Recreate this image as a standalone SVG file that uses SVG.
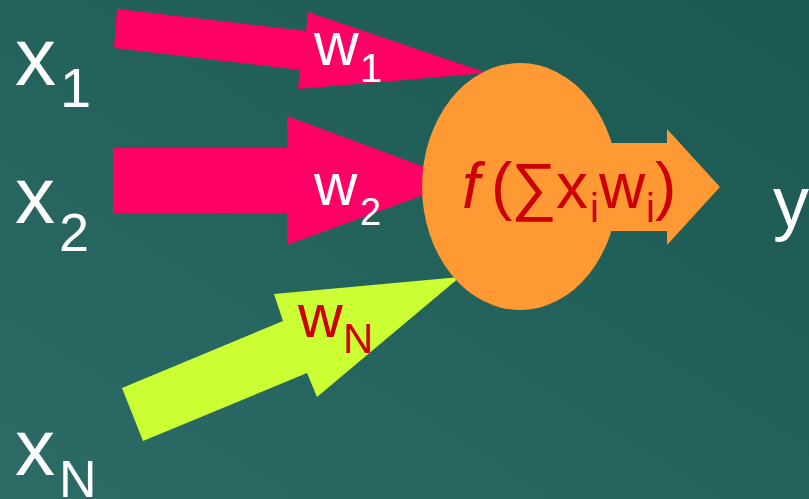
<svg xmlns="http://www.w3.org/2000/svg" width="809" height="499" viewBox="0 0 809 499">
<defs>
<linearGradient id="bg" x1="0" y1="1" x2="1" y2="0">
<stop offset="0" stop-color="#2D6B67"/>
<stop offset="1" stop-color="#1A5850"/>
</linearGradient>
<style>
.t{font-family:"Liberation Sans",Arial,sans-serif;fill:#FFFFFF}
.r{fill:#CC0000}
.pink{fill:#FF0066}
.lime{fill:#CCFF33}
.orange{fill:#FF9933}
</style>
</defs>
<rect x="0" y="0" width="809" height="499" fill="url(#bg)"/>
<g id="connectors">
<polygon class="pink" points="117,9 306,31 308,12 487,73 298,89 300,70 114,48"/>
<polygon class="pink" points="113,148 287,148 287,116 462,181 287,245 287,213 113,213"/>
<polygon class="lime" points="122,388 283,321 274,294 460,277 317,397 307,373 143,441"/>
<polygon class="orange" points="600,143 667,143 667,129 720,187 667,245 667,231 600,231"/>
</g>
<g id="neuron">
<ellipse class="orange" cx="520" cy="186.5" rx="98" ry="123.5"/>
<text class="t r" font-size="64"><tspan x="462" y="208" font-style="italic">f</tspan><tspan x="491" y="208">(</tspan><tspan x="511" y="208">∑</tspan><tspan x="556" y="208">x</tspan><tspan x="590" y="222" font-size="40">i</tspan><tspan x="599" y="208">w</tspan><tspan x="646" y="222" font-size="40">i</tspan><tspan x="655" y="208">)</tspan></text>
</g>
<g id="x1"><text class="t" font-size="82"><tspan x="15" y="85">x</tspan><tspan x="60" y="107" font-size="56">1</tspan></text></g>
<g id="x2"><text class="t" font-size="80"><tspan x="15" y="223">x</tspan><tspan x="59" y="251" font-size="54">2</tspan></text></g>
<g id="xN"><text class="t" font-size="80"><tspan x="15" y="475">x</tspan><tspan x="59" y="497" font-size="52">N</tspan></text></g>
<g id="y"><text class="t" font-size="72" x="773" y="227">y</text></g>
<g id="w1"><text class="t" font-size="62"><tspan x="314" y="65">w</tspan><tspan x="360" y="82" font-size="40">1</tspan></text></g>
<g id="w2"><text class="t" font-size="60"><tspan x="314" y="205">w</tspan><tspan x="360" y="225" font-size="38">2</tspan></text></g>
<g id="wN"><text class="t r" font-size="62"><tspan x="298" y="337">w</tspan><tspan x="343" y="353" font-size="42">N</tspan></text></g>
</svg>
